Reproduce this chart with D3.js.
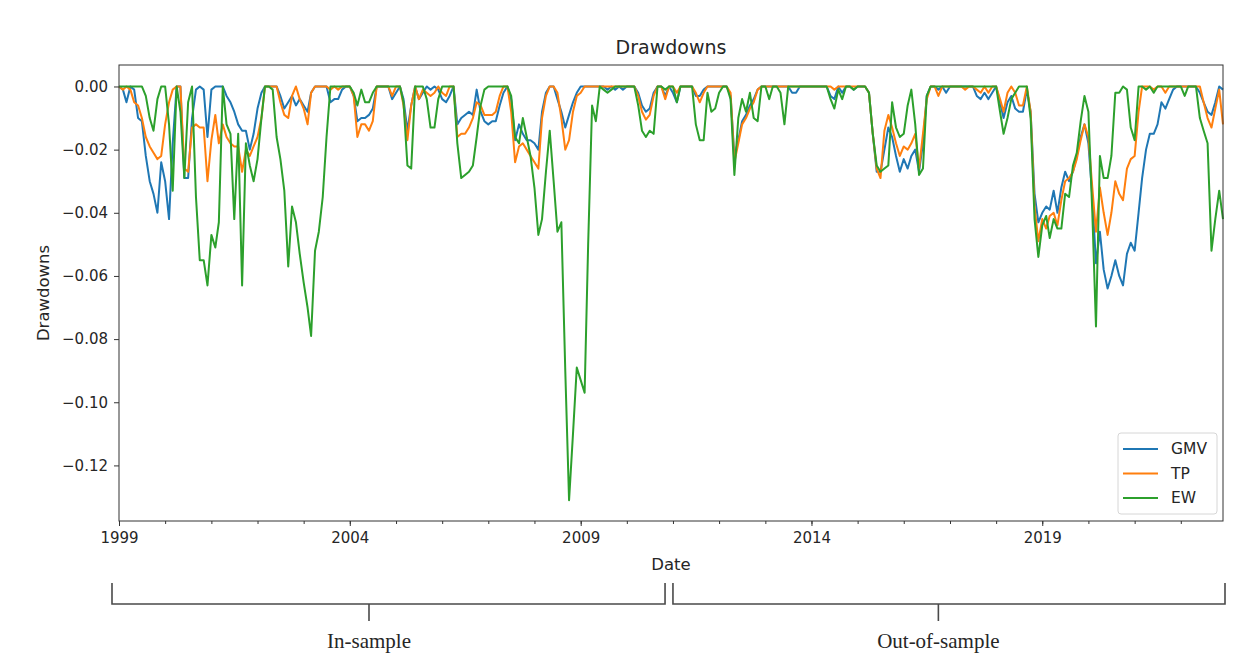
<!DOCTYPE html>
<html>
<head>
<meta charset="utf-8">
<script src="https://cdn.jsdelivr.net/npm/d3@7"></script>
<style>
body { margin: 0; background: #fff; }
svg text { font-family: "DejaVu Sans", sans-serif; fill: #262626; }
.line { fill: none; stroke-width: 2; stroke-linejoin: round; }
.axis path { display: none; }
.axis line { stroke: #333; }
.bracket { fill: none; stroke: #4a4a4a; stroke-width: 1.6; }
.period_label { font-family: "Liberation Serif", "Times New Roman", serif !important; font-size: 21px; }
</style>
</head>
<body>
<svg id="chart" width="1260" height="670"></svg>
<script>

// monthly drawdowns, one row per year, 1999-01 .. 2022-12
var gmv = [
    0, -0.001, -0.005, 0, -0.001, -0.010, -0.011, -0.022, -0.030, -0.034, -0.040, -0.024,
    -0.030, -0.042, -0.018, 0, 0, -0.029, -0.029, -0.010, -0.001, 0, -0.001, -0.016,
    -0.001, 0, 0, 0, -0.003, -0.005, -0.008, -0.012, -0.014, -0.014, -0.020, -0.015,
    -0.007, -0.002, 0, 0, 0, 0, -0.003, -0.007, -0.005, -0.003, -0.006, -0.004,
    -0.006, -0.008, -0.002, 0, 0, 0, 0, -0.005, -0.004, -0.004, -0.001, 0,
    0, -0.003, -0.011, -0.010, -0.010, -0.009, -0.007, 0, 0, 0, 0, -0.004,
    -0.002, 0, -0.004, -0.014, -0.006, 0, -0.004, -0.002, 0, -0.001, 0, -0.001,
    -0.004, -0.005, -0.003, 0, -0.012, -0.010, -0.009, -0.008, -0.009, -0.001, -0.008, -0.011,
    -0.012, -0.011, -0.011, -0.006, -0.002, 0, -0.004, -0.017, -0.012, -0.015, -0.017, -0.017,
    -0.018, -0.020, -0.008, -0.002, 0, 0, -0.004, -0.008, -0.013, -0.009, -0.005, -0.002,
    0, 0, 0, 0, 0, 0, 0, -0.001, 0, -0.001, 0, -0.001,
    0, 0, 0, -0.002, -0.006, -0.008, -0.007, -0.002, 0, 0, -0.003, 0,
    -0.002, -0.005, 0, 0, 0, 0, -0.003, -0.003, -0.001, 0, 0, 0,
    0, 0, 0, -0.003, -0.022, -0.017, -0.011, -0.009, -0.006, -0.004, -0.001, 0,
    0, 0, 0, 0, 0, 0, 0, -0.002, -0.002, 0, 0, 0,
    0, 0, 0, 0, 0, -0.003, -0.004, 0, -0.002, 0, 0, -0.001,
    0, 0, 0, -0.002, -0.015, -0.027, -0.027, -0.020, -0.013, -0.016, -0.022, -0.027,
    -0.023, -0.026, -0.022, -0.020, -0.027, -0.018, -0.003, 0, 0, -0.001, 0, -0.002,
    0, 0, 0, 0, 0, 0, 0, -0.003, -0.004, -0.002, -0.004, -0.002,
    0, -0.005, -0.010, -0.005, -0.003, -0.007, -0.008, -0.008, -0.001, -0.008, -0.034, -0.043,
    -0.040, -0.038, -0.039, -0.033, -0.040, -0.032, -0.027, -0.030, -0.027, -0.022, -0.016, -0.012,
    -0.018, -0.035, -0.056, -0.046, -0.058, -0.064, -0.060, -0.055, -0.060, -0.063, -0.053, -0.0495,
    -0.052, -0.040, -0.029, -0.020, -0.015, -0.015, -0.012, -0.005, -0.007, -0.004, -0.001, 0,
    0, 0, 0, 0, 0, -0.002, -0.005, -0.008, -0.009, -0.005, 0, -0.001
];

var tp = [
    0, -0.001, 0, -0.001, -0.005, -0.006, -0.010, -0.016, -0.019, -0.021, -0.023, -0.022,
    -0.012, -0.005, -0.001, 0, 0, -0.026, -0.027, -0.013, -0.012, -0.013, -0.013, -0.030,
    -0.017, -0.009, -0.018, -0.012, -0.016, -0.018, -0.019, -0.019, -0.027, -0.020, -0.022, -0.019,
    -0.016, -0.010, 0, 0, 0, 0, -0.005, -0.009, -0.010, -0.003, 0, -0.004,
    -0.007, -0.012, -0.002, 0, 0, 0, 0, -0.001, 0, -0.001, 0, 0,
    0, -0.003, -0.016, -0.012, -0.012, -0.014, -0.011, 0, 0, 0, 0, -0.003,
    0, 0, -0.006, -0.017, -0.006, 0, -0.004, -0.001, -0.002, -0.003, -0.002, 0,
    -0.002, -0.003, 0, 0, -0.016, -0.015, -0.015, -0.013, -0.010, -0.005, -0.006, -0.009,
    -0.009, -0.009, -0.008, -0.003, 0, 0, -0.008, -0.024, -0.019, -0.018, -0.020, -0.022,
    -0.024, -0.026, -0.010, -0.003, 0, 0, -0.002, -0.010, -0.020, -0.017, -0.008, -0.003,
    -0.002, 0, 0, 0, 0, 0, 0, 0, 0, 0, 0, 0,
    0, 0, 0, -0.003, -0.008, -0.0105, -0.009, -0.003, 0, 0, -0.004, 0,
    0, -0.002, 0, 0, 0, 0, -0.002, -0.005, -0.002, 0, 0, 0,
    0, 0, 0, -0.002, -0.024, -0.018, -0.012, -0.010, -0.007, -0.005, -0.001, 0,
    0, 0, 0, 0, 0, 0, 0, 0, 0, 0, 0, 0,
    0, 0, 0, 0, 0, 0, -0.001, 0, 0, 0, 0, 0,
    0, 0, 0, -0.002, -0.015, -0.026, -0.029, -0.014, -0.009, -0.013, -0.018, -0.022,
    -0.019, -0.020, -0.018, -0.015, -0.026, -0.015, -0.004, 0, 0, -0.003, 0, 0,
    0, 0, 0, 0, -0.001, 0, 0, -0.001, -0.002, 0, -0.002, 0,
    0, -0.004, -0.008, -0.002, 0, -0.002, -0.006, -0.006, 0, -0.008, -0.038, -0.049,
    -0.042, -0.045, -0.041, -0.040, -0.044, -0.036, -0.030, -0.029, -0.027, -0.023, -0.017, -0.012,
    -0.016, -0.032, -0.046, -0.032, -0.040, -0.047, -0.040, -0.030, -0.034, -0.036, -0.026, -0.023,
    -0.022, -0.008, 0, 0, 0, -0.001, 0, 0, -0.002, 0, 0, 0,
    0, 0, 0, 0, 0, 0, -0.005, -0.010, -0.013, -0.007, -0.001, -0.012
];

var ew = [
    0, 0, 0, 0, 0, 0, 0, -0.003, -0.010, -0.014, -0.004, 0,
    0, -0.012, -0.033, 0, -0.008, -0.029, -0.005, 0, -0.035, -0.055, -0.055, -0.063,
    -0.047, -0.051, -0.043, 0, -0.012, -0.015, -0.042, -0.015, -0.063, -0.018, -0.025, -0.030,
    -0.023, -0.010, 0, 0, -0.001, -0.016, -0.023, -0.033, -0.057, -0.038, -0.043, -0.053,
    -0.062, -0.070, -0.079, -0.052, -0.046, -0.035, -0.016, 0, 0, 0, 0, 0,
    0, -0.002, -0.006, -0.001, -0.005, -0.005, -0.002, 0, 0, 0, 0, 0,
    0, 0, -0.005, -0.025, -0.026, 0, 0, 0, -0.004, -0.013, -0.013, -0.004,
    0, 0, 0, 0, -0.018, -0.029, -0.028, -0.027, -0.025, -0.016, -0.006, -0.001,
    0, 0, 0, 0, 0, 0, -0.003, -0.016, -0.018, -0.010, -0.016, -0.022,
    -0.032, -0.047, -0.042, -0.027, -0.014, -0.030, -0.046, -0.043, -0.090, -0.131, -0.110, -0.089,
    -0.093, -0.097, -0.050, -0.006, -0.011, 0, -0.001, -0.002, -0.001, 0, 0, 0,
    0, 0, 0, -0.006, -0.014, -0.016, -0.014, -0.015, 0, 0, -0.001, 0,
    0, -0.005, 0, 0, 0, 0, -0.012, -0.017, -0.017, -0.002, -0.008, -0.007,
    -0.002, 0, 0, -0.004, -0.028, -0.010, -0.004, -0.008, -0.002, -0.010, -0.011, 0,
    0, -0.004, 0, 0, -0.002, -0.012, 0, 0, 0, 0, 0, 0,
    0, 0, 0, 0, 0, -0.004, -0.007, -0.001, -0.004, 0, 0, -0.001,
    0, 0, 0, -0.002, -0.015, -0.025, -0.027, -0.026, -0.025, -0.005, -0.013, -0.016,
    -0.015, -0.006, -0.001, -0.012, -0.028, -0.026, -0.003, 0, 0, 0, 0, 0,
    0, 0, 0, 0, 0, 0, 0, 0, 0, 0, 0, 0,
    0, -0.008, -0.015, -0.010, -0.004, -0.002, 0, 0, 0, -0.010, -0.042, -0.054,
    -0.044, -0.041, -0.048, -0.042, -0.045, -0.045, -0.034, -0.035, -0.025, -0.021, -0.011, -0.003,
    -0.008, -0.040, -0.076, -0.022, -0.029, -0.029, -0.022, -0.002, -0.002, 0, -0.001, -0.013,
    -0.017, 0, 0, -0.001, 0, -0.002, 0, 0, 0, 0, 0, 0,
    0, -0.003, 0, 0, 0, -0.010, -0.014, -0.018, -0.052, -0.042, -0.033, -0.042
];

var series_names = ["GMV", "TP", "EW"];
var colors = ["#1f77b4", "#ff7f0e", "#2ca02c"];

var major_years = [1999, 2004, 2009, 2014, 2019];
var y_ticks = [0, -0.02, -0.04, -0.06, -0.08, -0.10, -0.12];

// the two sample periods drawn under the axis: [first month, last month, month of the label]
var periods = [
    { label: "In-sample", from: [1999, 0], to: [2010, 11], mark: [2004, 5] },
    { label: "Out-of-sample", from: [2011, 0], to: [2022, 11], mark: [2016, 9] }
];

var margin = { top: 65, right: 37, bottom: 149, left: 119 };
var width = 1260 - margin.left - margin.right;
var height = 670 - margin.top - margin.bottom;

var svg_root = d3.select("#chart");
var svg = svg_root.append("g")
    .attr("transform", "translate(" + margin.left + "," + margin.top + ")");

// month dates for the x values
var start = new Date(1999, 0, 1);
var dates = gmv.map(function(d, i) { return d3.timeMonth.offset(start, i); });

var x = d3.scaleTime()
    .domain([dates[0], dates[dates.length - 1]])
    .range([0, width]);

var y = d3.scaleLinear()
    .domain([-0.1376, 0.0068])
    .range([height, 0]);

// x axis, major ticks with labels and yearly minor ticks
var minor_dates = d3.range(1999, 2023).map(function(yr) { return new Date(yr, 0, 1); });

svg.append("g")
    .attr("class", "axis")
    .attr("transform", "translate(0," + height + ")")
    .call(d3.axisBottom(x).tickValues(minor_dates).tickSize(3).tickFormat(""));

svg.append("g")
    .attr("class", "axis")
    .attr("transform", "translate(0," + height + ")")
    .call(d3.axisBottom(x)
        .tickValues(major_years.map(function(yr) { return new Date(yr, 0, 1); }))
        .tickSize(5)
        .tickPadding(6)
        .tickFormat(d3.timeFormat("%Y")))
    .selectAll("text")
    .style("font-size", "15px");

svg.append("g")
    .attr("class", "axis")
    .call(d3.axisLeft(y)
        .tickValues(y_ticks)
        .tickSize(5)
        .tickPadding(6)
        .tickFormat(function(d) {
            return d == 0 ? "0.00" : "\u2212" + Math.abs(d).toFixed(2);
        }))
    .selectAll("text")
    .style("font-size", "15px");

// the lines
var line = d3.line()
    .x(function(d) { return x(d[0]); })
    .y(function(d) { return y(d[1]); });

[gmv, tp, ew].forEach(function(values, k) {
    var data = values.map(function(v, i) { return [dates[i], v]; });
    svg.append("path")
        .attr("class", "line")
        .datum(data)
        .attr("stroke", colors[k])
        .attr("d", line);
});

// frame
svg.append("rect")
    .attr("width", width)
    .attr("height", height)
    .attr("fill", "none")
    .attr("stroke", "#333")
    .attr("stroke-width", 1);

// titles
svg.append("text")
    .attr("x", width / 2)
    .attr("y", -11)
    .attr("text-anchor", "middle")
    .style("font-size", "19px")
    .text("Drawdowns");

svg.append("text")
    .attr("x", width / 2)
    .attr("y", height + 49)
    .attr("text-anchor", "middle")
    .style("font-size", "16.5px")
    .text("Date");

svg.append("text")
    .attr("transform", "translate(-70," + (height / 2) + ") rotate(-90)")
    .attr("text-anchor", "middle")
    .style("font-size", "16.5px")
    .text("Drawdowns");

// legend
var legend = svg.append("g")
    .attr("transform", "translate(" + (width - 105) + "," + (height - 88) + ")");

legend.append("rect")
    .attr("width", 99)
    .attr("height", 81)
    .attr("rx", 3)
    .attr("fill", "#fff")
    .attr("fill-opacity", 0.85)
    .attr("stroke", "#d6d6d6");

series_names.forEach(function(name, k) {
    var ly = 16 + k * 24.5;
    legend.append("line")
        .attr("x1", 5).attr("x2", 40)
        .attr("y1", ly).attr("y2", ly)
        .attr("stroke", colors[k])
        .attr("stroke-width", 2);
    legend.append("text")
        .attr("x", 53)
        .attr("y", ly)
        .attr("dy", "0.35em")
        .style("font-size", "15.5px")
        .text(name);
});

// sample period brackets under the chart
var top_y = height + 62;
var bar_y = height + 83;
var mark_y = height + 100;

periods.forEach(function(p, k) {
    var x0 = x(new Date(p.from[0], p.from[1], 1)) - (k == 0 ? 7 : 0);
    var x1 = x(new Date(p.to[0], p.to[1], 1)) + (k == 0 ? -4 : 2);
    var xm = x(new Date(p.mark[0], p.mark[1], 1));

    svg.append("path")
        .attr("class", "bracket")
        .attr("d", "M" + x0 + "," + top_y + "V" + bar_y + "H" + x1 + "V" + top_y);

    svg.append("line")
        .attr("class", "bracket")
        .attr("x1", xm).attr("x2", xm)
        .attr("y1", bar_y).attr("y2", mark_y);

    svg.append("text")
        .attr("class", "period_label")
        .attr("x", xm)
        .attr("y", height + 127)
        .attr("text-anchor", "middle")
        .text(p.label);
});

</script>
</body>
</html>
